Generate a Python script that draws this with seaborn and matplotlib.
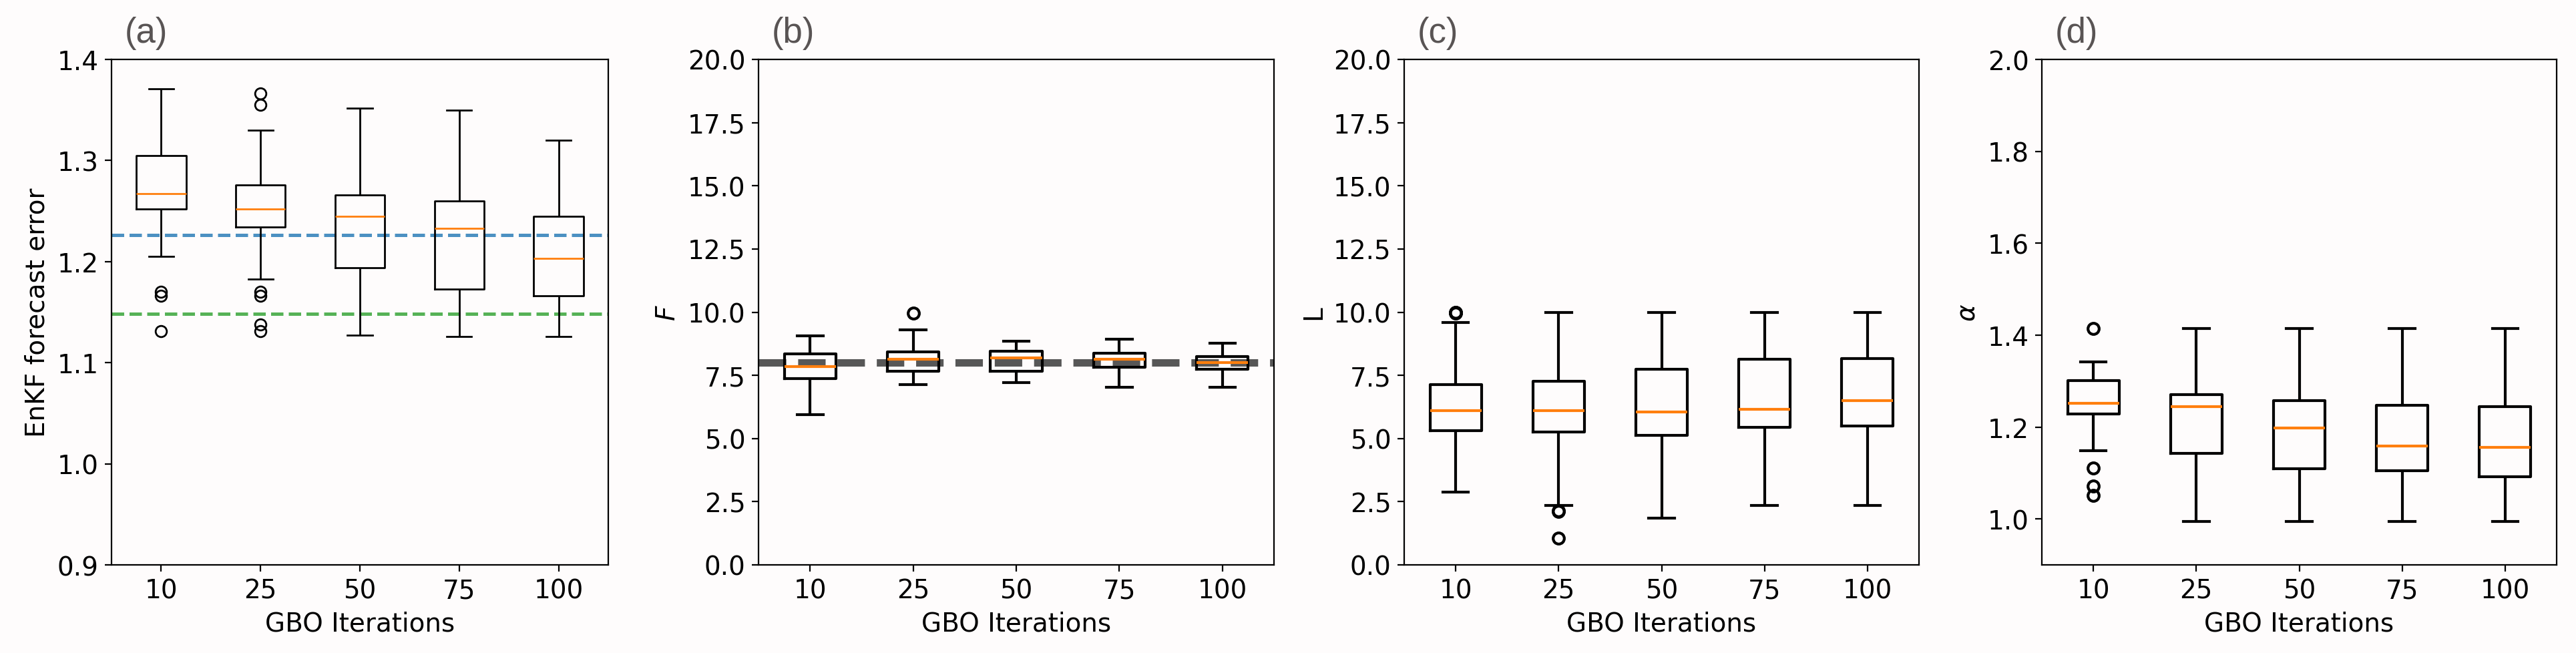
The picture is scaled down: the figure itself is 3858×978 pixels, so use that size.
import matplotlib
matplotlib.use("Agg")
import matplotlib.pyplot as plt
import seaborn as sns
import pandas as pd

# ---------------- data ----------------
iterations = ["10", "25", "50", "75", "100"]

# (a) EnKF forecast error samples per GBO iteration count
enkf_error = [
    [1.131, 1.166, 1.170, 1.205, 1.252, 1.256, 1.260, 1.263, 1.267,
     1.278, 1.288, 1.297, 1.305, 1.320, 1.340, 1.355, 1.371],
    [1.131, 1.138, 1.166, 1.170, 1.183, 1.234, 1.238, 1.242, 1.246, 1.250,
     1.252, 1.257, 1.262, 1.267, 1.272, 1.276, 1.290, 1.310, 1.330, 1.355, 1.366],
    [1.127, 1.194, 1.245, 1.266, 1.352],
    [1.126, 1.173, 1.233, 1.260, 1.350],
    [1.126, 1.166, 1.203, 1.245, 1.320],
]
enkf_ref_blue = 1.2265
enkf_ref_green = 1.1486

# (b) forcing F
forcing_F = [
    [5.95, 7.36, 7.84, 8.34, 9.05],
    [7.14, 7.40, 7.67, 7.90, 8.14, 8.30, 8.42, 9.30, 9.97],
    [7.21, 7.67, 8.19, 8.45, 8.85],
    [7.04, 7.81, 8.14, 8.37, 8.94],
    [7.04, 7.74, 8.01, 8.24, 8.77],
]
F_true = 8.0

# (c) localisation L
loc_L = [
    [2.87, 4.00, 4.60, 5.00, 5.30, 5.50, 5.70, 5.90, 6.11,
     6.40, 6.70, 6.90, 7.13, 9.58, 9.97, 10.0, 10.0],
    [1.05, 2.12, 2.15, 2.34, 5.27, 5.50, 5.80, 6.00, 6.11,
     6.50, 6.80, 7.00, 7.26, 8.00, 8.80, 9.40, 10.0],
    [1.86, 5.12, 6.05, 7.74, 10.0],
    [2.34, 5.45, 6.16, 8.14, 10.0],
    [2.34, 5.50, 6.50, 8.16, 10.0],
]

# (d) inflation alpha
infl_alpha = [
    [1.051, 1.071, 1.110, 1.149, 1.228, 1.235, 1.241, 1.247, 1.252,
     1.265, 1.278, 1.290, 1.301, 1.315, 1.330, 1.342, 1.414],
    [0.995, 1.142, 1.245, 1.271, 1.414],
    [0.995, 1.109, 1.198, 1.258, 1.414],
    [0.995, 1.105, 1.158, 1.247, 1.414],
    [0.995, 1.092, 1.156, 1.244, 1.414],
]

panel_labels = ["(a)", "(b)", "(c)", "(d)"]
y_labels = ["EnKF forecast error", "$F$", "L", r"$\alpha$"]
x_label = "GBO Iterations"

# ---------------- figure ----------------
bg = "#fefcfc"
plt.rcParams.update({
    "font.family": ["DejaVu Sans"],
    "font.size": 14,
    "axes.linewidth": 0.8,
    "xtick.labelsize": 14,
    "ytick.labelsize": 14,
    "axes.labelsize": 14,
})

fig = plt.figure(figsize=(19.29, 4.895), dpi=200, facecolor=bg)

positions = [
    [167 / 3858, 1 - 847 / 979, 744 / 3858, 757 / 979],
    [1136 / 3858, 1 - 847 / 979, 772 / 3858, 757 / 979],
    [2103 / 3858, 1 - 847 / 979, 771 / 3858, 757 / 979],
    [3058 / 3858, 1 - 847 / 979, 771 / 3858, 757 / 979],
]


def long_frame(samples):
    rows = []
    for lab, vals in zip(iterations, samples):
        for v in vals:
            rows.append({"it": lab, "val": v})
    return pd.DataFrame(rows)


datasets = [enkf_error, forcing_F, loc_L, infl_alpha]
line_widths = [1.0, 1.5, 1.5, 1.5]
ylims = [(0.9, 1.4), (0.0, 20.0), (0.0, 20.0), (0.9, 2.0)]
yticks = [
    [0.9, 1.0, 1.1, 1.2, 1.3, 1.4],
    [0.0, 2.5, 5.0, 7.5, 10.0, 12.5, 15.0, 17.5, 20.0],
    [0.0, 2.5, 5.0, 7.5, 10.0, 12.5, 15.0, 17.5, 20.0],
    [1.0, 1.2, 1.4, 1.6, 1.8, 2.0],
]
ytickfmt = ["{:.1f}", "{:.1f}", "{:.1f}", "{:.1f}"]

for i, (pos, samples) in enumerate(zip(positions, datasets)):
    ax = fig.add_axes(pos)
    ax.set_facecolor(bg)
    lw = line_widths[i]
    df = long_frame(samples)

    if i == 0:
        ax.axhline(enkf_ref_blue, color="#1f77b4", alpha=0.8, lw=1.8,
                   ls="--", zorder=1)
        ax.axhline(enkf_ref_green, color="#2ca02c", alpha=0.8, lw=1.8,
                   ls="--", zorder=1)
    if i == 1:
        ax.axhline(F_true, color="#3a3a3a", alpha=0.85, lw=4.0,
                   ls="--", zorder=1)

    sns.boxplot(
        data=df, x="it", y="val", order=iterations, ax=ax,
        fill=False, color="black", linecolor="black", width=0.5,
        linewidth=lw, whis=1.5,
        medianprops=dict(color="#ff7f0e", linewidth=lw),
        flierprops=dict(marker="o", markerfacecolor="none",
                        markeredgecolor="black", markersize=6,
                        markeredgewidth=lw),
    )

    ax.set_xlim(-0.5, 4.5)
    ax.set_ylim(*ylims[i])
    ax.set_yticks(yticks[i])
    ax.set_yticklabels([ytickfmt[i].format(t) for t in yticks[i]])
    ax.set_xlabel(x_label, fontsize=14)
    ax.set_ylabel(y_labels[i], fontsize=14)
    for s in ax.spines.values():
        s.set_visible(True)
        s.set_color("black")
        s.set_linewidth(0.8)
    ax.tick_params(direction="out", length=3.5, width=0.8, colors="black")

    ax.annotate(panel_labels[i], xy=(0, 1), xycoords="axes fraction",
                xytext=(7.0, 5.5), textcoords="offset points",
                ha="left", va="bottom", fontsize=19, color="#595454",
                family=["Liberation Sans", "DejaVu Sans"])

fig.savefig("out.png", dpi=200, facecolor=bg)
